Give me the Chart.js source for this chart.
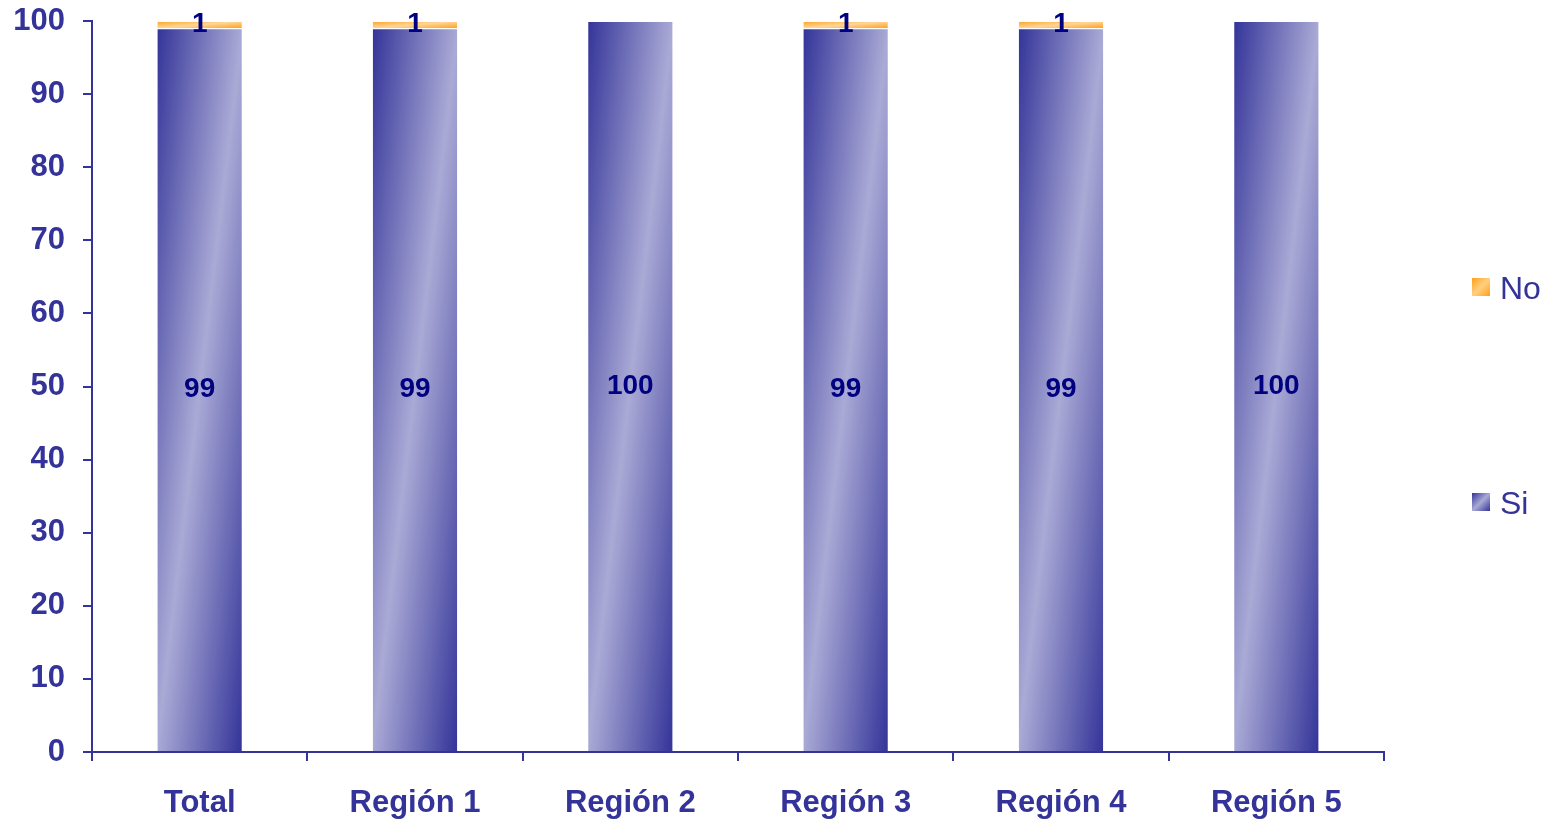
<!DOCTYPE html>
<html>
<head>
<meta charset="utf-8">
<script src="https://cdn.jsdelivr.net/npm/chart.js@4/dist/chart.umd.min.js"></script>
<style>
  body { margin: 0; background: #fff; }
  #wrap { position: relative; width: 1547px; height: 820px; }
  .leg { position: absolute; left: 1472px; font: 32px "Liberation Sans", Arial, sans-serif; color: #333399; line-height: 32px; }
  .leg i { display: inline-block; width: 18px; height: 18px; margin-right: 10px; vertical-align: 3px; }
</style>
</head>
<body>
<div id="wrap">
  <canvas id="chart" width="1547" height="820"></canvas>
  <div class="leg" style="top:272px"><i style="background:linear-gradient(135deg,#ff9f1a,#ffcf80,#ff9f1a)"></i>No</div>
  <div class="leg" style="top:487px"><i style="background:linear-gradient(135deg,#333399,#aaaad6,#333399)"></i>Si</div>
</div>
<script>
// values (percent)
const categories = ['Total', 'Región 1', 'Región 2', 'Región 3', 'Región 4', 'Región 5'];
const siValues = [99, 99, 100, 99, 99, 100];
const noValues = [1, 1, 0, 1, 1, 0];
const yTicks = [0, 10, 20, 30, 40, 50, 60, 70, 80, 90, 100];

const BLUE = '#333399';
const FONT = '"Liberation Sans", Arial, sans-serif';

// Excel style "diagonal" fill: dark corners, light band along the anti-diagonal
const gradientBars = {
    id: 'gradientBars',
    beforeDatasetsDraw(chart) {
        const ctx = chart.ctx;
        chart.data.datasets.forEach((ds, i) => {
            chart.getDatasetMeta(i).data.forEach(bar => {
                const w = bar.width;
                const h = Math.abs(bar.base - bar.y);
                if (!h) return;
                const x0 = bar.x - w / 2;
                const y0 = Math.min(bar.y, bar.base);
                const k = 2 * w * h / (w * w + h * h);
                const g = ctx.createLinearGradient(x0, y0, x0 + k * h, y0 + k * w);
                g.addColorStop(0, ds.darkColor);
                g.addColorStop(0.5, ds.lightColor);
                g.addColorStop(1, ds.darkColor);
                bar.options.backgroundColor = g;
            });
        });
    }
};

const barLabels = {
    id: 'barLabels',
    afterDatasetsDraw(chart) {
        const ctx = chart.ctx;
        ctx.save();
        ctx.font = 'bold 28px ' + FONT;
        ctx.fillStyle = '#000080';
        ctx.textAlign = 'center';
        ctx.textBaseline = 'middle';
        chart.data.datasets.forEach((ds, i) => {
            chart.getDatasetMeta(i).data.forEach((bar, j) => {
                const v = ds.data[j];
                if (!v) return;
                ctx.fillText(String(v), bar.x, (bar.y + bar.base) / 2);
            });
        });
        ctx.restore();
    }
};

new Chart(document.getElementById('chart'), {
    type: 'bar',
    data: {
        labels: categories,
        datasets: [{
            label: 'Si',
            data: siValues,
            darkColor: '#333399',
            lightColor: '#aaaad6',
            backgroundColor: () => BLUE,
            borderColor: '#ffffff',
            borderWidth: 1,
            categoryPercentage: 1,
            barPercentage: 0.4
        }, {
            label: 'No',
            data: noValues,
            darkColor: '#ff9f1a',
            lightColor: '#ffd699',
            backgroundColor: () => '#ff9900',
            borderColor: '#ffffff',
            borderWidth: 1,
            categoryPercentage: 1,
            barPercentage: 0.4
        }]
    },
    options: {
        responsive: false,
        animation: false,
        layout: { padding: { top: 21, right: 163, left: 0, bottom: 0 } },
        plugins: {
            legend: { display: false },
            tooltip: { enabled: false }
        },
        scales: {
            x: {
                stacked: true,
                grid: { drawOnChartArea: false, color: BLUE, lineWidth: 2, tickLength: 9 },
                border: { color: BLUE, width: 2 },
                ticks: { color: BLUE, font: { family: FONT, size: 31, weight: 'bold' }, padding: 24 },
                afterFit(scale) { scale.height = 68; scale.paddingLeft = 0; scale.paddingRight = 0; }
            },
            y: {
                stacked: true,
                min: 0,
                max: 100,
                afterBuildTicks(scale) { scale.ticks = yTicks.map(v => ({ value: v })); },
                grid: { drawOnChartArea: false, color: BLUE, lineWidth: 2, tickLength: 9 },
                border: { color: BLUE, width: 2 },
                ticks: { color: BLUE, font: { family: FONT, size: 31, weight: 'bold' }, padding: 18 },
                afterFit(scale) { scale.width = 92; scale.paddingTop = 0; scale.paddingBottom = 0; }
            }
        }
    },
    plugins: [gradientBars, barLabels]
});
</script>
</body>
</html>
